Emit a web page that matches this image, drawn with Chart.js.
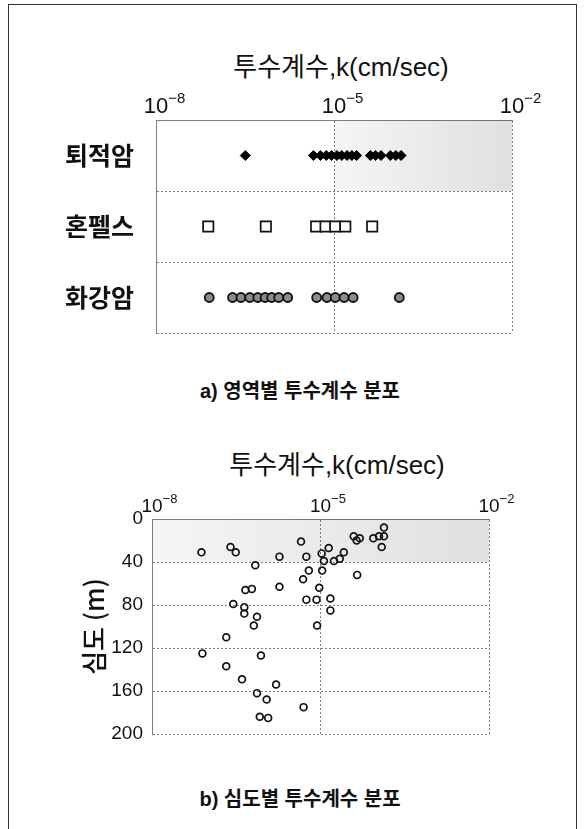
<!DOCTYPE html>
<html>
<head>
<meta charset="utf-8">
<script src="https://cdn.jsdelivr.net/npm/chart.js@4"></script>
<style>
  html, body { margin: 0; padding: 0; background: #fff; }
  .page { position: relative; width: 588px; height: 829px; overflow: hidden; font-family: "Liberation Sans", "Noto Sans CJK KR", sans-serif; color: #111; }
  .frame { position: absolute; left: 8px; top: 4px; width: 569px; height: 840px; border: 1.5px solid #333; box-sizing: border-box; }
  canvas { position: absolute; left: 0; }
  .txt { position: absolute; width: 320px; text-align: center; white-space: nowrap; }
  .title { font-size: 26px; line-height: 26px; }
  .cap { font-size: 20px; line-height: 20px; font-weight: bold; }
</style>
</head>
<body>
<div class="page">
  <div class="frame"></div>
  <div class="txt title" style="left:181px; top:54px;">투수계수,k(cm/sec)</div>
  <canvas id="regionChart" width="588" height="370" style="top:0; width:588px; height:370px;"></canvas>
  <div class="txt cap" style="left:140px; top:381px;">a) 영역별 투수계수 분포</div>
  <div class="txt title" style="left:177px; top:452px;">투수계수,k(cm/sec)</div>
  <canvas id="depthChart" width="588" height="330" style="top:430px; width:588px; height:330px;"></canvas>
  <div class="txt cap" style="left:140px; top:789px;">b) 심도별 투수계수 분포</div>
</div>
<script>
/* --- data: a) by region --- */
const categories = ['퇴적암', '혼펠스', '화강암'];
const sedimentK = [3.2e-7, 4.5e-6, 5.9e-6, 7.4e-6, 9.1e-6, 1.12e-5, 1.35e-5, 1.66e-5, 2.0e-5, 2.4e-5, 4.1e-5, 5.0e-5, 6.2e-5, 8.9e-5, 1.1e-4, 1.35e-4];
const hornfelsK = [7.6e-8, 7.1e-7, 5.0e-6, 7.2e-6, 1.05e-5, 1.55e-5, 4.4e-5];
const graniteK = [7.9e-8, 1.95e-7, 2.7e-7, 3.8e-7, 5.2e-7, 6.9e-7, 8.9e-7, 1.17e-6, 1.66e-6, 5.1e-6, 7.6e-6, 1.05e-5, 1.48e-5, 2.1e-5, 1.26e-4];

/* --- data: b) by depth --- */
const depthK = [7.6e-8, 2.5e-7, 3.1e-7, 1.86e-6, 6.9e-7, 4.5e-6, 5.6e-6, 1.05e-5, 1.15e-5, 1.4e-5,
  1.74e-5, 2.2e-5, 2.6e-5, 3.9e-5, 4.4e-5, 5.0e-5, 8.7e-5, 1.1e-4, 1.35e-4, 1.35e-4,
  1.23e-4, 6.2e-6, 1.07e-5, 4.5e-5, 4.9e-6, 1.86e-6, 4.6e-7, 6.0e-7, 9.5e-6, 5.6e-6,
  8.5e-6, 1.5e-5, 1.5e-5, 2.8e-7, 4.4e-7, 4.4e-7, 7.4e-7, 6.5e-7, 8.7e-6, 2.1e-7,
  7.9e-8, 8.7e-7, 2.1e-7, 4.0e-7, 1.62e-6, 7.4e-7, 1.1e-6, 5.0e-6, 8.3e-7, 1.17e-6];
const depthM = [31, 26, 31, 35, 43, 21, 35, 32, 39, 27,
  39, 37, 31, 16, 20, 18, 18, 16, 16, 8,
  26, 48, 48, 52, 56, 63, 66, 65, 64, 75,
  75, 74, 85, 79, 82, 88, 91, 99, 99, 110,
  125, 127, 137, 149, 154, 162, 168, 175, 184, 185];

const xTicks = [1e-8, 1e-5, 1e-2];
const depthTicks = [0, 40, 80, 120, 160, 200];
const SHADE_K = 1e-5;
const SHADE_DEPTH = 40;

const GRID = '#808080';
const FONT = '"Liberation Sans", "Noto Sans CJK KR", sans-serif';
const KR_FONT = '"Noto Sans CJK KR", sans-serif';

/* 10^n tick labels, "10" centered on the tick with the exponent hung to the right */
function powerLabels(size, baseline) {
  return {
    id: 'powerLabels',
    afterDraw(chart) {
      const { ctx, scales: { x } } = chart;
      ctx.save();
      ctx.fillStyle = '#111';
      ctx.textBaseline = 'alphabetic';
      x.ticks.forEach(t => {
        const px = x.getPixelForValue(t.value);
        const exp = Math.round(Math.log10(t.value));
        ctx.font = size + 'px ' + FONT;
        ctx.textAlign = 'center';
        ctx.fillText('10', px, baseline);
        const half = ctx.measureText('10').width / 2;
        ctx.font = Math.round(size * 0.66) + 'px ' + FONT;
        ctx.textAlign = 'left';
        ctx.fillText('\u2212' + Math.abs(exp), px + half, baseline - size * 0.45);
      });
      ctx.restore();
    }
  };
}

/* stippled-looking grey band */
function shadePlugin(getRect) {
  return {
    id: 'shade',
    beforeDatasetsDraw(chart) {
      const { ctx } = chart;
      const r = getRect(chart);
      const g = ctx.createLinearGradient(r.x0, 0, r.x1, 0);
      g.addColorStop(0, 'rgba(0,0,0,0.04)');
      g.addColorStop(1, 'rgba(0,0,0,0.12)');
      ctx.save();
      ctx.fillStyle = g;
      ctx.fillRect(r.x0, r.y0, r.x1 - r.x0, r.y1 - r.y0);
      ctx.restore();
    }
  };
}

const logAxis = (height) => ({
  type: 'logarithmic',
  position: 'top',
  min: xTicks[0],
  max: xTicks[xTicks.length - 1],
  afterBuildTicks: axis => { axis.ticks = xTicks.map(v => ({ value: v })); },
  afterFit: axis => { axis.height = height; },
  ticks: { display: false },
  grid: { color: GRID, lineWidth: 1, drawTicks: false },
  border: { display: true, color: GRID, width: 1, dash: [2, 2] }
});

/* --- a) chart --- */
new Chart(document.getElementById('regionChart'), {
  type: 'scatter',
  data: {
    datasets: [
      { data: sedimentK.map(k => ({ x: k, y: categories[0] })), pointStyle: 'rectRot', pointRadius: 5,
        backgroundColor: '#000', borderColor: '#000', borderWidth: 1 },
      { data: hornfelsK.map(k => ({ x: k, y: categories[1] })), pointStyle: 'rect', pointRadius: 7.3,
        backgroundColor: '#fff', borderColor: '#111', borderWidth: 1.7 },
      { data: graniteK.map(k => ({ x: k, y: categories[2] })), pointStyle: 'circle', pointRadius: 4.5,
        backgroundColor: '#8c8c8c', borderColor: '#111', borderWidth: 1.8 }
    ]
  },
  options: {
    responsive: false,
    animation: false,
    layout: { padding: { left: 0, right: 76, top: 0, bottom: 22 } },
    plugins: { legend: { display: false }, tooltip: { enabled: false } },
    scales: {
      x: logAxis(120),
      y: {
        type: 'category',
        labels: categories,
        offset: true,
        afterFit: axis => { axis.width = 156; },
        ticks: { color: '#111', padding: 22, font: { family: KR_FONT, size: 25, weight: 'bold' } },
        grid: { offset: true, color: GRID, lineWidth: 1, drawTicks: false },
        border: { display: true, color: GRID, width: 1, dash: [2, 2] }
      }
    }
  },
  plugins: [
    shadePlugin(chart => {
      const { chartArea, scales: { x, y } } = chart;
      return { x0: x.getPixelForValue(SHADE_K), x1: chartArea.right, y0: chartArea.top,
               y1: (y.getPixelForValue(0) + y.getPixelForValue(1)) / 2 };
    }),
    powerLabels(22, 113)
  ]
});

/* --- b) chart --- */
new Chart(document.getElementById('depthChart'), {
  type: 'scatter',
  data: {
    datasets: [{
      data: depthK.map((k, i) => ({ x: k, y: depthM[i] })),
      pointStyle: 'circle', pointRadius: 3.4,
      backgroundColor: 'rgba(255,255,255,0)', borderColor: '#111', borderWidth: 1.7
    }]
  },
  options: {
    responsive: false,
    animation: false,
    layout: { padding: { left: 0, right: 99, top: 0, bottom: 26 } },
    plugins: { legend: { display: false }, tooltip: { enabled: false } },
    scales: {
      x: logAxis(89),
      y: {
        type: 'linear',
        reverse: true,
        min: depthTicks[0],
        max: depthTicks[depthTicks.length - 1],
        afterFit: axis => { axis.width = 152; },
        afterBuildTicks: axis => { axis.ticks = depthTicks.map(v => ({ value: v })); },
        ticks: { color: '#111', padding: 9, font: { family: FONT, size: 19 } },
        grid: { color: GRID, lineWidth: 1, drawTicks: false },
        border: { display: true, color: GRID, width: 1, dash: [2, 2] },
        title: { display: true, text: '심도 (m)', color: '#111', padding: { top: 79, bottom: 0 },
                 font: { family: KR_FONT, size: 26, weight: '500' } }
      }
    }
  },
  plugins: [
    shadePlugin(chart => {
      const { chartArea, scales: { y } } = chart;
      return { x0: chartArea.left, x1: chartArea.right, y0: chartArea.top, y1: y.getPixelForValue(SHADE_DEPTH) };
    }),
    powerLabels(19, 82)
  ]
});
</script>
</body>
</html>
